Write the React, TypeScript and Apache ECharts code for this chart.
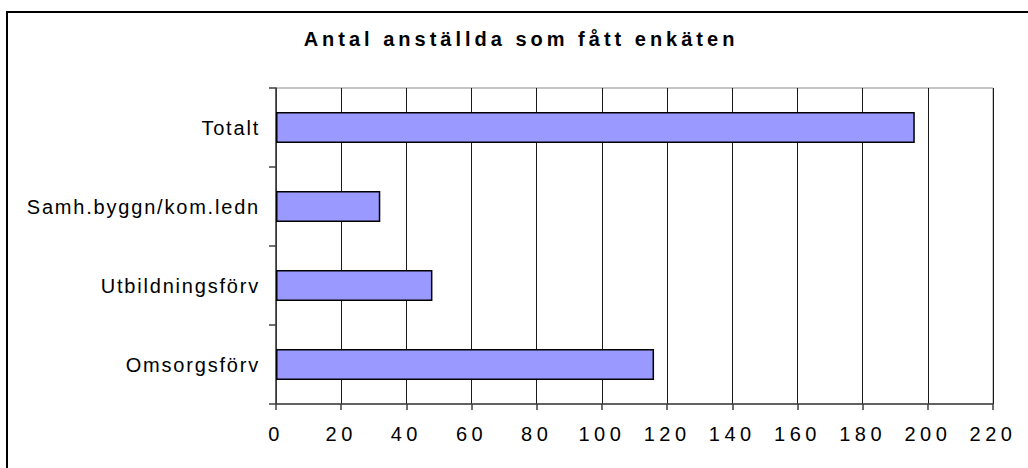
import React, { useEffect, useRef } from "react";
import * as echarts from "echarts";

const titleText = "Antal anställda som fått enkäten";
const categories = ["Omsorgsförv", "Utbildningsförv", "Samh.byggn/kom.ledn", "Totalt"];
const values = [116, 48, 32, 196];
const axisMin = 0;
const axisMax = 220;
const axisStep = 20;

export default function App() {
  const ref = useRef<HTMLDivElement>(null);
  useEffect(() => {
    if (!ref.current) return;
    const chart = echarts.init(ref.current, null, { renderer: "svg" });
    chart.setOption({
      animation: false,
      backgroundColor: "#ffffff",
      grid: {
        left: 276,
        right: 35,
        top: 88,
        bottom: 64,
        show: true,
        borderColor: "#8c8c8c",
        borderWidth: 1,
        backgroundColor: "transparent",
      },
      xAxis: {
        type: "value",
        min: axisMin,
        max: axisMax,
        interval: axisStep,
        axisLine: { show: true, lineStyle: { color: "#404040", width: 1.5 } },
        axisTick: { show: true, length: 6, lineStyle: { color: "#404040", width: 1.5 } },
        splitLine: { show: true, lineStyle: { color: "#1a1a1a", width: 1 } },
        axisLabel: {
          margin: 20,
          color: "#000",
          fontSize: 20,
          fontFamily: "'Liberation Sans', sans-serif",
        },
      },
      yAxis: {
        type: "category",
        data: categories,
        axisLine: { show: true, lineStyle: { color: "#404040", width: 1.5 } },
        axisTick: { show: true, length: 7, lineStyle: { color: "#404040", width: 1.5 } },
        splitLine: { show: false },
        axisLabel: {
          margin: 16,
          color: "#000",
          fontSize: 20,
          fontFamily: "'Liberation Sans', Arial",
        },
      },
      series: [
        {
          type: "bar",
          data: values,
          barWidth: 31,
          itemStyle: { color: "#9999ff", borderColor: "#000", borderWidth: 1.5 },
        },
      ],
      graphic: [
        {
          type: "rect",
          shape: { x: 7, y: 12, width: 1100, height: 500 },
          style: { fill: "none", stroke: "#000", lineWidth: 2 },
          silent: true,
        },
        {
          type: "text",
          x: 521,
          y: 39,
          style: {
            text: titleText,
            fontSize: 20,
            fontWeight: "bold",
            fontFamily: "'Liberation Sans'",
            fill: "#000",
            textAlign: "center",
            textVerticalAlign: "middle",
          },
          silent: true,
        },
      ],
    });
    return () => chart.dispose();
  }, []);
  return (
    <>
      <style>{`
        #chart text[style*="bold"] { letter-spacing: 4px; }
        #chart text[style*="Arial"] { letter-spacing: 1.8px; }
        #chart text[style*="sans-serif"] { letter-spacing: 4.5px; }
      `}</style>
      <div
        id="chart"
        ref={ref}
        style={{ position: "fixed", left: 0, top: 0, width: 1028, height: 468, background: "#fff" }}
      />
    </>
  );
}
